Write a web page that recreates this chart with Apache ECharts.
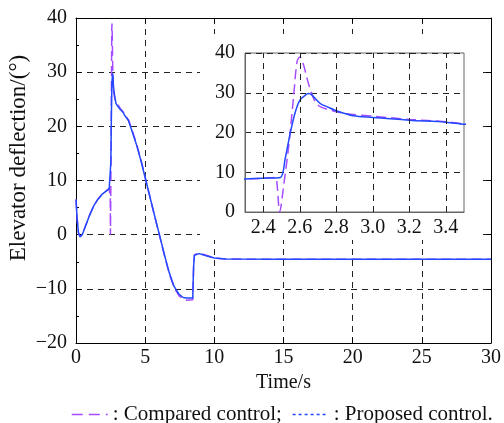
<!DOCTYPE html>
<html>
<head>
<meta charset="utf-8">
<script src="https://cdn.jsdelivr.net/npm/echarts@6/dist/echarts.min.js"></script>
<style>
  html, body { margin: 0; padding: 0; background: #fff; }
  #chart { width: 504px; height: 423px; }
</style>
</head>
<body>
<div id="chart"></div>
<script>
// Elevator deflection response: compared vs proposed control

const timeProposed = [0, 0.08, 0.18, 0.3, 0.45, 0.7, 1.0, 1.3, 1.6, 1.9, 2.2, 2.3, 2.4, 2.494,
  2.52, 2.549, 2.576, 2.6, 2.631, 2.649, 2.667, 2.712, 2.749, 2.804, 2.894, 3.0, 3.2, 3.4, 3.5,
  3.6, 3.8, 4.0, 4.35, 4.7, 5.05, 5.4, 5.7, 6.03, 6.4, 6.75, 7.1, 7.45, 7.75, 8.0, 8.44,
  8.5, 8.56, 8.7, 8.9, 9.4, 10.0, 10.8, 15, 20, 25, 30];
const proposed = [6.5, 3.0, 0.3, -0.4, 0.0, 1.7, 3.7, 5.4, 6.6, 7.5, 8.1, 8.3, 8.5, 8.7,
  13.4, 20.1, 25.2, 28.1, 29.4, 29.8, 29.4, 27.3, 26.5, 25.4, 24.2, 23.8, 23.1, 22.6, 22.1,
  21.9, 21.0, 19.5, 16.8, 13.6, 10.0, 6.4, 3.3, 0.0, -3.8, -7.1, -9.6, -11.0, -11.6, -11.7, -11.7,
  -6.0, -3.8, -3.5, -3.5, -3.9, -4.3, -4.5, -4.55, -4.55, -4.55, -4.55];

const timeCompared = [0, 0.08, 0.18, 0.3, 0.45, 0.7, 1.0, 1.3, 1.6, 1.9, 2.2, 2.3, 2.4, 2.467,
  2.476, 2.49, 2.512, 2.54, 2.567, 2.585, 2.6, 2.621, 2.64, 2.662, 2.685, 2.712, 2.785, 2.876, 3.0, 3.2, 3.4, 3.5,
  3.6, 3.8, 4.0, 4.35, 4.7, 5.05, 5.4, 5.7, 6.03, 6.4, 6.75, 7.1, 7.45, 7.75, 8.0, 8.44,
  8.5, 8.56, 8.7, 8.9, 9.4, 10.0, 10.8, 15, 20, 25, 30];
const compared = [6.5, 3.0, 0.3, -0.4, 0.0, 1.7, 3.7, 5.4, 6.6, 7.5, 8.1, 8.3, 8.5, 8.7,
  6.7, 0.0, 6.7, 16.8, 29.4, 37.8, 39.0, 37.0, 33.6, 30.2, 27.7, 26.5, 25.4, 24.6, 24.1, 23.3, 22.7, 22.2,
  22.0, 21.2, 19.7, 17.0, 13.8, 10.1, 6.4, 3.2, -0.1, -3.9, -7.3, -9.8, -11.3, -11.9, -12.1, -12.0,
  -6.0, -3.7, -3.4, -3.4, -3.8, -4.3, -4.5, -4.55, -4.55, -4.55, -4.55];

// Axis ranges and tick spacing
const mainX = { min: 0, max: 30, step: 5 };
const mainY = { min: -20, max: 40, step: 10 };
const insetX = { min: 2.3, max: 3.5, step: 0.1 };
const insetXTicks = [2.4, 2.6, 2.8, 3.0, 3.2, 3.4];
const insetY = { min: 0, max: 40, step: 10 };

const seriesNames = ['Compared control', 'Proposed control'];
const xTitle = 'Time/s';
const yTitle = 'Elevator deflection/(\u00b0)';

const pairs = (xs, ys) => xs.map((x, i) => [x, ys[i]]);
const FONT = 'Liberation Serif';
const PURPLE = '#a64cff';
const BLUE = '#2348ff';
const gridDash = { color: '#222', width: 1, type: [6, 5] };
const minus = v => (v < 0 ? '\u2212' + Math.abs(v) : String(v));

const lbl = { fontFamily: FONT, fontSize: 20, color: '#111' };

const option = {
  animation: false,
  backgroundColor: '#fff',
  textStyle: { fontFamily: FONT, fontSize: 20 },
  grid: [
    { left: 76, top: 18, width: 416, height: 325 },
    { left: 245, top: 53, width: 219, height: 159, show: true, borderColor: '#666', borderWidth: 1, z: 2, backgroundColor: 'transparent' }
  ],
  graphic: [
    {
      // blank backdrop behind the zoomed view
      type: 'rect', z: 1, silent: true,
      shape: { x: 200, y: 34, width: 282, height: 206 },
      style: { fill: '#fff' }
    },
    {
      // vertical axis title
      type: 'text', z: 5, silent: true, x: 19, y: 158, rotation: Math.PI / 2,
      style: { text: yTitle, fontFamily: FONT, fontSize: 23, fill: '#111', align: 'center', verticalAlign: 'middle' }
    }
  ],
  legend: {
    left: 66, top: 399, itemWidth: 36, itemHeight: 14, itemGap: 10,
    textStyle: { fontFamily: FONT, fontSize: 21, color: '#111' },
    formatter: name => ': ' + name + (name === seriesNames[0] ? ';' : '.'),
    data: [
      { name: seriesNames[0], itemStyle: { opacity: 0 }, lineStyle: { type: [11, 6], width: 1.5, color: PURPLE } },
      { name: seriesNames[1], itemStyle: { opacity: 0 }, lineStyle: { type: [3, 3], width: 1.5, color: BLUE } }
    ]
  },
  xAxis: [
    {
      gridIndex: 0, type: 'value', min: mainX.min, max: mainX.max, interval: mainX.step,
      axisLine: { onZero: false, lineStyle: { color: '#000', width: 1 } },
      axisTick: { inside: true, length: 5, lineStyle: { color: '#000' } },
      axisLabel: Object.assign({ margin: 5 }, lbl),
      splitLine: { show: true, lineStyle: gridDash },
      name: xTitle, nameLocation: 'middle', nameGap: 28,
      nameTextStyle: { fontFamily: FONT, fontSize: 20, color: '#111' }
    },
    {
      gridIndex: 0, type: 'value', position: 'top', min: mainX.min, max: mainX.max, interval: mainX.step,
      axisLine: { onZero: false, lineStyle: { color: '#000', width: 1 } },
      axisTick: { inside: true, length: 5, lineStyle: { color: '#000' } },
      axisLabel: { show: false }, splitLine: { show: false }
    },
    {
      gridIndex: 1, type: 'value', min: insetX.min, max: insetX.max, interval: insetX.step, z: 2,
      axisLine: { onZero: false, lineStyle: { color: '#666', width: 1 } },
      axisTick: { show: false },
      axisLabel: Object.assign({
        margin: 6,
        formatter: v => (insetXTicks.some(t => Math.abs(t - v) < 1e-6) ? v.toFixed(1) : '')
      }, lbl),
      splitLine: { show: false }
    }
  ],
  yAxis: [
    {
      gridIndex: 0, type: 'value', min: mainY.min, max: mainY.max, interval: mainY.step,
      axisLine: { onZero: false, lineStyle: { color: '#000', width: 1 } },
      axisTick: { inside: true, length: 5, lineStyle: { color: '#000' } },
      minorTick: { show: true, splitNumber: 2, length: 3, lineStyle: { color: '#000' } },
      axisLabel: Object.assign({ margin: 9, formatter: minus }, lbl),
      splitLine: { show: true, lineStyle: gridDash }
    },
    {
      gridIndex: 0, type: 'value', position: 'right', min: mainY.min, max: mainY.max, interval: mainY.step,
      axisLine: { onZero: false, lineStyle: { color: '#000', width: 1 } },
      axisTick: { inside: true, length: 5, lineStyle: { color: '#000' } },
      axisLabel: { show: false }, splitLine: { show: false }
    },
    {
      gridIndex: 1, type: 'value', min: insetY.min, max: insetY.max, interval: insetY.step, z: 2,
      axisLine: { onZero: false, lineStyle: { color: '#666', width: 1 } },
      axisTick: { show: false },
      axisLabel: Object.assign({ margin: 10 }, lbl),
      splitLine: { show: true, lineStyle: gridDash }
    }
  ],
  series: [
    {
      name: seriesNames[0], type: 'line', xAxisIndex: 0, yAxisIndex: 0, z: 2,
      data: pairs(timeCompared, compared), symbol: 'none',
      lineStyle: { color: PURPLE, width: 1.5, type: [10, 5] }, itemStyle: { color: PURPLE }
    },
    {
      name: seriesNames[1], type: 'line', xAxisIndex: 0, yAxisIndex: 0, z: 2,
      data: pairs(timeProposed, proposed), symbol: 'none',
      lineStyle: { color: BLUE, width: 1.5 }, itemStyle: { color: BLUE }
    },
    {
      // vertical grid lines of the zoomed view
      type: 'line', xAxisIndex: 2, yAxisIndex: 2, z: 2, data: [], silent: true,
      markLine: {
        silent: true, symbol: 'none', label: { show: false },
        lineStyle: gridDash, animation: false,
        data: insetXTicks.map(v => ({ xAxis: v }))
      }
    },
    {
      name: seriesNames[0], type: 'line', xAxisIndex: 2, yAxisIndex: 2, z: 3, clip: true,
      data: pairs(timeCompared, compared), symbol: 'none', smooth: 0.3,
      lineStyle: { color: PURPLE, width: 1.5, type: [10, 5] }, itemStyle: { color: PURPLE }
    },
    {
      name: seriesNames[1], type: 'line', xAxisIndex: 2, yAxisIndex: 2, z: 3, clip: true,
      data: pairs(timeProposed, proposed), symbol: 'none', smooth: 0.3,
      lineStyle: { color: BLUE, width: 1.5 }, itemStyle: { color: BLUE }
    }
  ]
};

const chart = echarts.init(document.getElementById('chart'));
chart.setOption(option);
</script>
</body>
</html>
